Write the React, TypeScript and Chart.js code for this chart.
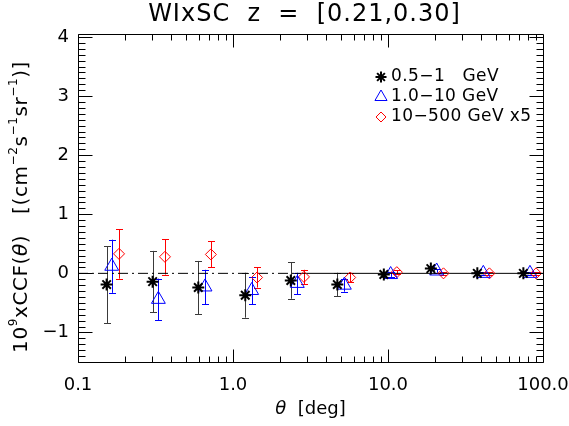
import React, { useEffect, useRef } from 'react';
import { Chart, registerables } from 'chart.js';

Chart.register(...registerables);

const FONT = '"DejaVu Sans", sans-serif';

const titleText = 'WIxSC  z  =  [0.21,0.30]';
const xTickValues = [0.1, 1, 10, 100];
const xTickLabels = ['0.1', '1.0', '10.0', '100.0'];
const yTickValues = [-1, 0, 1, 2, 3, 4];
const yTickLabels = ['\u22121', '0', '1', '2', '3', '4'];
const legendLabels = ['0.5\u22121   GeV', '1.0\u221210 GeV', '10\u2212500 GeV x5'];

// 0.5-1 GeV
const lowTheta = [0.153, 0.303, 0.597, 1.2, 2.36, 4.71, 9.4, 18.9, 37.7, 74.7];
const lowCCF = [-0.19, -0.14, -0.24, -0.37, -0.12, -0.19, -0.02, 0.08, 0.0, 0.0];
const lowErr = [0.65, 0.52, 0.45, 0.38, 0.31, 0.2, 0.05, 0.03, 0.02, 0.02];

// 1.0-10 GeV
const midTheta = [0.165, 0.33, 0.66, 1.32, 2.6, 5.23, 10.4, 20.6, 41.2, 82.4];
const midCCF = [0.12, -0.44, -0.23, -0.29, -0.17, -0.2, -0.02, 0.04, 0.0, 0.0];
const midErr = [0.45, 0.35, 0.29, 0.23, 0.18, 0.11, 0.04, 0.03, 0.02, 0.02];

// 10-500 GeV x5
const highTheta = [0.184, 0.364, 0.72, 1.43, 2.87, 5.7, 11.4, 22.8, 45.1, 90.2];
const highCCF = [0.33, 0.28, 0.32, -0.07, -0.06, -0.07, 0.02, 0.0, 0.0, 0.0];
const highErr = [0.42, 0.3, 0.22, 0.17, 0.12, 0.08, 0.03, 0.02, 0.02, 0.02];

// zero reference line (dash-dot part, then solid)
const zeroLineX = [0.1, 2.5, 100];

const series = [
  { theta: lowTheta, ccf: lowCCF, err: lowErr, color: '#000000', barColor: '#3a3a3a', style: 'star', radius: 6, width: 2 },
  { theta: midTheta, ccf: midCCF, err: midErr, color: '#0000ff', barColor: '#0000ff', style: 'triangle', radius: 8, width: 1 },
  { theta: highTheta, ccf: highCCF, err: highErr, color: '#ff0000', barColor: '#ff0000', style: 'rectRot', radius: 5.5, width: 1 },
];

type Seg = { t: string; sup?: boolean; it?: boolean };

function segFont(s: Seg, size: number) {
  const sz = s.sup ? Math.round(size * 0.62) : size;
  return `${s.it ? 'italic ' : ''}${sz}px ${FONT}`;
}

function drawRich(ctx: CanvasRenderingContext2D, segs: Seg[], x: number, y: number, size: number, spacing = 0) {
  (ctx as any).letterSpacing = `${spacing}px`;
  let total = 0;
  for (const s of segs) {
    ctx.font = segFont(s, size);
    total += ctx.measureText(s.t).width;
  }
  let cx = x - total / 2;
  ctx.textAlign = 'left';
  ctx.textBaseline = 'middle';
  for (const s of segs) {
    ctx.font = segFont(s, size);
    ctx.fillText(s.t, cx, s.sup ? y - size * 0.42 : y);
    cx += ctx.measureText(s.t).width;
  }
  (ctx as any).letterSpacing = '0px';
}

function drawSymbol(ctx: CanvasRenderingContext2D, style: string, x: number, y: number, r: number, color: string, width: number) {
  ctx.save();
  ctx.strokeStyle = color;
  ctx.lineWidth = width;
  ctx.beginPath();
  if (style === 'star') {
    const d = r * Math.SQRT1_2;
    ctx.moveTo(x - r, y); ctx.lineTo(x + r, y);
    ctx.moveTo(x, y - r); ctx.lineTo(x, y + r);
    ctx.moveTo(x - d, y - d); ctx.lineTo(x + d, y + d);
    ctx.moveTo(x - d, y + d); ctx.lineTo(x + d, y - d);
  } else if (style === 'triangle') {
    ctx.moveTo(x, y - r);
    ctx.lineTo(x + r * Math.sin(Math.PI / 3), y + r * 0.5);
    ctx.lineTo(x - r * Math.sin(Math.PI / 3), y + r * 0.5);
    ctx.closePath();
  } else {
    ctx.moveTo(x, y - r); ctx.lineTo(x + r, y); ctx.lineTo(x, y + r); ctx.lineTo(x - r, y);
    ctx.closePath();
  }
  ctx.stroke();
  ctx.restore();
}

const framePlugin = {
  id: 'idlFrame',
  beforeDraw(chart: any) {
    const ctx = chart.ctx;
    ctx.save();
    ctx.fillStyle = '#ffffff';
    ctx.fillRect(0, 0, chart.width, chart.height);
    ctx.restore();
  },
  beforeDatasetsDraw(chart: any) {
    const ctx = chart.ctx as CanvasRenderingContext2D;
    const xs = chart.scales.x, ys = chart.scales.y;
    ctx.save();
    ctx.lineWidth = 1;
    for (const s of series) {
      ctx.strokeStyle = s.barColor;
      for (let i = 0; i < s.theta.length; i++) {
        const px = Math.round(xs.getPixelForValue(s.theta[i])) + 0.5;
        const y1 = ys.getPixelForValue(s.ccf[i] + s.err[i]);
        const y2 = ys.getPixelForValue(s.ccf[i] - s.err[i]);
        ctx.beginPath();
        ctx.moveTo(px, y1); ctx.lineTo(px, y2);
        ctx.moveTo(px - 3.5, Math.round(y1) + 0.5); ctx.lineTo(px + 3.5, Math.round(y1) + 0.5);
        ctx.moveTo(px - 3.5, Math.round(y2) + 0.5); ctx.lineTo(px + 3.5, Math.round(y2) + 0.5);
        ctx.stroke();
      }
    }
    ctx.restore();
  },
  afterDraw(chart: any) {
    const ctx = chart.ctx as CanvasRenderingContext2D;
    const { left, right, top, bottom } = chart.chartArea;
    const xs = chart.scales.x, ys = chart.scales.y;
    ctx.save();
    ctx.strokeStyle = '#000';
    ctx.lineWidth = 1;
    const L = Math.round(left) + 0.5, R = Math.round(right) + 0.5;
    const T = Math.round(top) + 0.5, B = Math.round(bottom) + 0.5;
    ctx.beginPath();
    ctx.rect(L, T, R - L, B - T);
    // y ticks
    for (let k = -15; k <= 40; k++) {
      const v = k / 10;
      const py = Math.round(ys.getPixelForValue(v)) + 0.5;
      const len = k % 10 === 0 ? 14 : 7;
      ctx.moveTo(L, py); ctx.lineTo(L + len, py);
      ctx.moveTo(R, py); ctx.lineTo(R - len, py);
    }
    // x ticks
    for (const d of [0.1, 1, 10]) {
      for (let m = 1; m <= 9; m++) {
        const v = m * d;
        const px = Math.round(xs.getPixelForValue(v)) + 0.5;
        const len = m === 1 ? 13 : 6;
        ctx.moveTo(px, B); ctx.lineTo(px, B - len);
        ctx.moveTo(px, T); ctx.lineTo(px, T + len);
      }
    }
    ctx.stroke();

    ctx.fillStyle = '#000';
    // title
    drawRich(ctx, [{ t: titleText }], (left + right) / 2 - 6, 15, 24, 1);

    // x title
    drawRich(ctx, [{ t: '\u03b8', it: true }, { t: '  [deg]' }], (left + right) / 2, 409, 18);

    // y title
    ctx.save();
    ctx.translate(22, 207);
    ctx.rotate(-Math.PI / 2);
    drawRich(ctx, [
      { t: '10' }, { t: '9', sup: true }, { t: 'xCCF(' }, { t: '\u03b8', it: true }, { t: ')   [(cm' },
      { t: '\u22122', sup: true }, { t: 's' }, { t: '\u22121', sup: true }, { t: 'sr' }, { t: '\u22121', sup: true }, { t: ')]' },
    ], 0, 0, 20, 0.6);
    ctx.restore();

    // legend
    const lx = 381, ly = [77, 97, 117];
    series.forEach((s, i) => {
      drawSymbol(ctx, s.style, lx, ly[i], s.style === 'star' ? 5.5 : s.style === 'triangle' ? 7 : 5, s.color, s.width);
      ctx.font = `17px ${FONT}`;
      (ctx as any).letterSpacing = '0.4px';
      ctx.textAlign = 'left';
      ctx.textBaseline = 'middle';
      ctx.fillStyle = '#000';
      ctx.fillText(legendLabels[i], lx + 10, ly[i]);
      (ctx as any).letterSpacing = '0px';
    });
    ctx.restore();
  },
};

export default function App() {
  const ref = useRef<HTMLCanvasElement | null>(null);
  useEffect(() => {
    if (!ref.current) return;
    const datasets: any[] = series.map((s, i) => ({
      type: 'scatter',
      label: legendLabels[i],
      data: s.theta.map((x, j) => ({ x, y: s.ccf[j] })),
      pointStyle: s.style,
      pointRadius: s.radius,
      pointBorderWidth: s.width,
      borderColor: s.color,
      backgroundColor: 'rgba(0,0,0,0)',
      pointBackgroundColor: 'rgba(0,0,0,0)',
      showLine: false,
    }));
    datasets.push({
      type: 'line',
      label: 'zero',
      data: zeroLineX.map((x) => ({ x, y: 0 })),
      borderColor: '#000',
      borderWidth: 1,
      pointRadius: 0,
      fill: false,
      segment: {
        borderDash: (c: any) => (c.p0DataIndex === 0 ? [10, 4, 2, 4] : []),
      },
    });
    const chart = new Chart(ref.current, {
      type: 'scatter',
      data: { datasets },
      options: {
        responsive: false,
        animation: false,
        devicePixelRatio: 1,
        layout: { padding: { top: 34, right: 26, left: 0, bottom: 0 } },
        plugins: { legend: { display: false }, tooltip: { enabled: false }, title: { display: false } },
        scales: {
          x: {
            type: 'logarithmic',
            min: 0.1,
            max: 100,
            grid: { display: false, drawTicks: false },
            border: { display: false },
            afterBuildTicks: (s: any) => { s.ticks = xTickValues.map((v) => ({ value: v })); },
            afterFit: (s: any) => { s.height = 64; s.paddingLeft = 0; s.paddingRight = 0; },
            ticks: {
              autoSkip: false,
              maxRotation: 0,
              padding: 13,
              color: '#000',
              font: { family: FONT, size: 18 },
              callback: (v: any) => xTickLabels[xTickValues.indexOf(Number(v))] ?? '',
            },
          },
          y: {
            type: 'linear',
            min: -1.5,
            max: 4.05,
            grid: { display: false, drawTicks: false },
            border: { display: false },
            afterBuildTicks: (s: any) => { s.ticks = yTickValues.map((v) => ({ value: v })); },
            afterFit: (s: any) => { s.width = 78; s.paddingTop = 0; s.paddingBottom = 0; },
            ticks: {
              autoSkip: false,
              padding: 9,
              color: '#000',
              font: { family: FONT, size: 18 },
              callback: (v: any) => yTickLabels[yTickValues.indexOf(Number(v))] ?? '',
            },
          },
        },
      },
      plugins: [framePlugin],
    } as any);
    return () => chart.destroy();
  }, []);
  return (
    <canvas
      ref={ref}
      width={569}
      height={426}
      style={{ position: 'fixed', left: 0, top: 0, width: 569, height: 426 }}
    />
  );
}
